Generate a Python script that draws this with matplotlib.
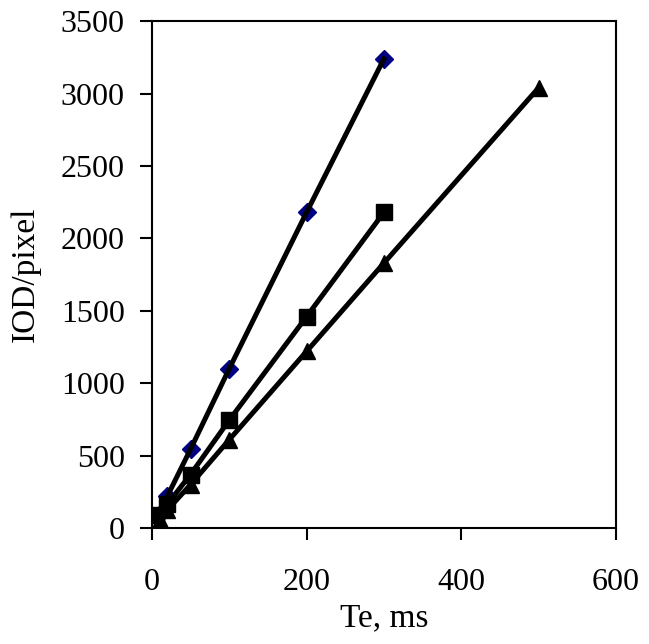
import matplotlib
matplotlib.use("Agg")
import matplotlib.pyplot as plt

# exposure time (ms) vs IOD/pixel
x_diamond = [10, 20, 50, 100, 200, 300]
y_diamond = [100, 220, 545, 1100, 2180, 3240]

x_square = [5, 20, 50, 100, 200, 300]
y_square = [90, 165, 370, 745, 1460, 2180]

x_triangle = [10, 20, 50, 100, 200, 300, 500]
y_triangle = [55, 125, 300, 610, 1220, 1830, 3040]

plt.rcParams['font.family'] = ['Liberation Serif', 'DejaVu Serif']

fig = plt.figure(figsize=(6.49, 6.44), dpi=100)
ax = fig.add_axes([0.234, 0.180, 0.715, 0.787])

lw = 3.6
# markers below the lines
ax.plot(x_diamond, y_diamond, 'D', color='#000080', markersize=9, zorder=2)
ax.plot(x_square, y_square, 's', color='black', markersize=11, zorder=2)
ax.plot(x_triangle, y_triangle, '^', color='black', markersize=12, zorder=2)
for xs, ys in [(x_diamond, y_diamond), (x_square, y_square), (x_triangle, y_triangle)]:
    ax.plot(xs, ys, '-', color='black', linewidth=lw, zorder=3)

ax.set_xlim(0, 600)
ax.set_ylim(0, 3500)
ax.set_xticks([0, 200, 400, 600])
ax.set_yticks(range(0, 3501, 500))
ax.tick_params(direction='out', length=8.6, width=1.5, labelsize=23)
ax.tick_params(axis='x', pad=20)
ax.tick_params(axis='y', pad=11)
for s in ax.spines.values():
    s.set_linewidth(1.5)

ax.set_xlabel("Te, ms", fontsize=24, labelpad=4)
ax.set_ylabel("IOD/pixel", fontsize=24, labelpad=14)

fig.savefig("out.png", dpi=100)
